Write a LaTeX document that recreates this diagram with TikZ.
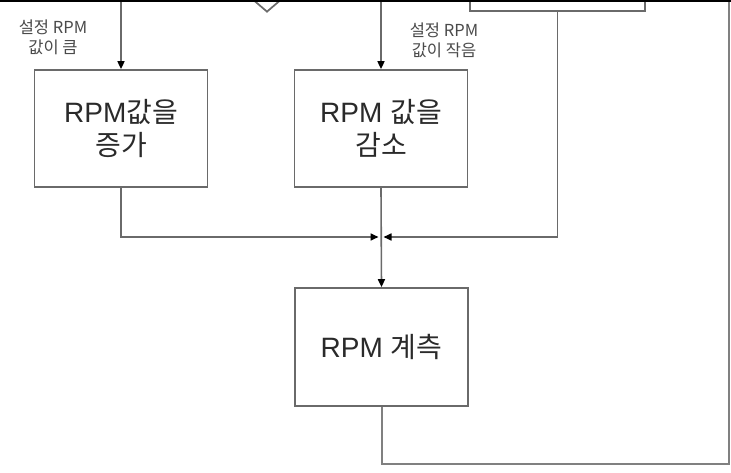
\documentclass[tikz,border=0pt]{standalone}
\usepackage{fontspec}
\setmainfont{Liberation Sans}
\newfontfamily\kr{Noto Sans CJK KR}
\usetikzlibrary{arrows.meta,shapes.geometric}
\definecolor{ln}{HTML}{6A6A6A}
\definecolor{tx}{HTML}{2A2A2A}
\begin{document}
\begin{tikzpicture}[x=1pt,y=-1pt,
  box/.style={draw=ln,line width=1.7pt,fill=white,minimum width=173pt,minimum height=117pt,inner sep=0pt,align=center,font=\fontsize{28}{33}\selectfont,text=tx},
  conn/.style={draw=ln,line width=1.6pt},
  arr/.style={conn,-{Triangle[length=8pt,width=7pt,color=black]}},
  outer/.style={draw=ln!85,line width=2pt},
  lab/.style={align=center,font=\fontsize{16.5}{20}\selectfont,text=tx!85}]
\useasboundingbox (0,0) rectangle (731,473);
\clip (0,0) rectangle (731,473);
\fill[white] (0,0) rectangle (731,473);
% nodes
\node[box] (inc) at (121,128.5) {RPM\kr{값을}\\\kr{증가}};
\node[box] (dec) at (381,128.5) {RPM \kr{값을}\\\kr{감소}};
\node[box,minimum height=118pt] (meas) at (381.5,347) {RPM \kr{계측}};
\node[draw=ln,line width=1.7pt,minimum width=175pt,minimum height=60pt,inner sep=0pt] (rb) at (557.5,-19) {};
\node[diamond,draw=ln,line width=1.7pt,minimum width=98pt,minimum height=84pt,inner sep=0pt] (dm) at (267,-30) {};
\node[lab] (l1) at (53,37) {\kr{설정} RPM\\\kr{값이 큼}};
\node[lab] (l2) at (444,40) {\kr{설정} RPM\\\kr{값이 작음}};
% free ends
\coordinate (t1) at (121,0);
\coordinate (t2) at (381,0);
\coordinate (j) at (381,237);
\coordinate (br) at (729,464);
\coordinate (rt) at (729,0);
% connectors
\draw[arr] (t1) -- (inc.north);
\draw[arr] (t2) -- (dec.north);
\draw[arr,shorten >=2.5pt] (inc.south) |- (j);
\draw[arr,shorten >=2.5pt] (rb.south) |- (j);
\draw[arr] (dec.south) -- (meas.north);
\draw[outer] (meas.south) |- (br) -- (rt);
% top border
\draw[line width=2pt,black] (0,0.6) -- (731,0.6);
\end{tikzpicture}
\end{document}
